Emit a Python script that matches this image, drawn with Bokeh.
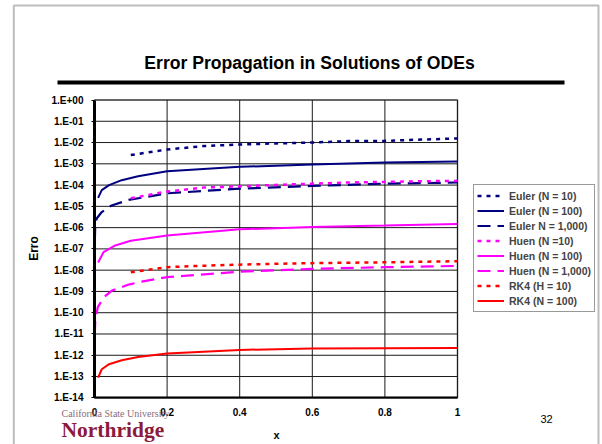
import math
from bokeh.plotting import figure
from bokeh.models import (Range1d, FixedTicker, Label, BoxAnnotation, Legend, LegendItem)
from bokeh.embed import file_html
from bokeh.resources import INLINE

# ---------------- data ----------------
euler10_x = [0.1, 0.2, 0.3, 0.4, 0.5, 0.6, 0.7, 0.8, 0.9, 1.0]
euler10_y = [2.6e-3, 4.7e-3, 6.8e-3, 8.1e-3, 9.1e-3, 1.0e-2, 1.17e-2, 1.2e-2, 1.38e-2, 1.55e-2]

euler100_x = [0.01, 0.02, 0.04, 0.075, 0.12, 0.2, 0.4, 0.6, 0.8, 1.0]
euler100_y = [2.5e-5, 5.8e-5, 1.0e-4, 1.7e-4, 2.6e-4, 4.5e-4, 7.2e-4, 9.3e-4, 1.15e-3, 1.3e-3]

euler1000_x = [0.001, 0.002, 0.006, 0.02, 0.047, 0.094, 0.2, 0.4, 0.6, 0.8, 1.0]
euler1000_y = [2.5e-7, 1.26e-6, 2.7e-6, 5.4e-6, 1.1e-5, 2.0e-5, 4.1e-5, 6.8e-5, 9.1e-5, 1.17e-4, 1.32e-4]

huen10_x = [0.1, 0.2, 0.3, 0.4, 0.5, 0.6, 0.7, 0.8, 0.9, 1.0]
huen10_y = [2.4e-5, 5.0e-5, 7.6e-5, 8.7e-5, 1.02e-4, 1.17e-4, 1.32e-4, 1.41e-4, 1.51e-4, 1.58e-4]

huen100_x = [0.01, 0.025, 0.057, 0.1, 0.2, 0.4, 0.6, 0.8, 1.0]
huen100_y = [2.3e-8, 7.1e-8, 1.45e-7, 2.4e-7, 4.3e-7, 8.3e-7, 1.07e-6, 1.26e-6, 1.5e-6]

huen1000_x = [0.001, 0.002, 0.009, 0.025, 0.048, 0.094, 0.13, 0.2, 0.4, 0.6, 0.8, 1.0]
huen1000_y = [1.0e-11, 4.0e-11, 1.8e-10, 5.2e-10, 1.1e-9, 2.1e-9, 2.9e-9, 4.7e-9, 8.5e-9, 1.15e-8, 1.38e-8, 1.58e-8]

rk4_10_x = [0.1, 0.2, 0.3, 0.4, 0.5, 0.6, 0.7, 0.8, 0.9, 1.0]
rk4_10_y = [7.9e-9, 1.38e-8, 1.62e-8, 1.82e-8, 2.0e-8, 2.14e-8, 2.24e-8, 2.34e-8, 2.5e-8, 2.63e-8]

rk4_100_x = [0.01, 0.02, 0.04, 0.075, 0.12, 0.2, 0.4, 0.6, 0.8, 1.0]
rk4_100_y = [8.9e-14, 2.2e-13, 3.8e-13, 5.8e-13, 8.3e-13, 1.2e-12, 1.78e-12, 2.1e-12, 2.14e-12, 2.19e-12]

series_labels = ["Euler (N = 10)", "Euler (N = 100)", "Euler N = 1,000)",
                 "Huen (N =10)", "Huen (N = 100)", "Huen (N = 1,000)",
                 "RK4 (H = 10)", "RK4 (N = 100)"]

x_ticks = [0, 0.2, 0.4, 0.6, 0.8, 1]
x_tick_labels = ["0", "0.2", "0.4", "0.6", "0.8", "1"]
y_ticks = [1e-14, 1e-13, 1e-12, 1e-11, 1e-10, 1e-9, 1e-8, 1e-7, 1e-6, 1e-5, 1e-4, 1e-3, 1e-2, 1e-1, 1e0]
y_tick_labels = ["1.E-14", "1.E-13", "1.E-12", "1.E-11", "1.E-10", "1.E-09", "1.E-08", "1.E-07",
                 "1.E-06", "1.E-05", "1.E-04", "1.E-03", "1.E-02", "1.E-01", "1.E+00"]

title_text = "Error Propagation in Solutions of ODEs"
x_label = "x"
y_label = "Erro"

# ---------------- layout geometry (canvas pixels, origin top-left) ----------------
W, H = 602, 444
PL, PR, PT, PB = 94.0, 457.0, 99.5, 397.3       # plot box
X0, X1 = x_ticks[0], x_ticks[-1]
LY0, LY1 = math.log10(y_ticks[0]), math.log10(y_ticks[-1])
sx = (PR - PL) / (X1 - X0)
sy = (PB - PT) / (LY1 - LY0)
x_start = X0 - PL / sx
x_end = X1 + (W - PR) / sx
y_start = 10 ** (LY0 - (H - PB) / sy)
y_end = 10 ** (LY1 + PT / sy)

FONT = "Liberation Sans"
NAVY = "#000080"
MAG = "#FF00FF"
RED = "#FF0000"

p = figure(width=W, height=H, output_backend="svg", toolbar_location=None,
           y_axis_type="log", x_range=Range1d(x_start, x_end), y_range=Range1d(y_start, y_end),
           min_border=0)
p.background_fill_color = "white"
p.border_fill_color = "white"
p.outline_line_color = None
p.xgrid.visible = False
p.ygrid.visible = False

# grid lines (through data scales)
p.segment(x0=[X0] * len(y_ticks), x1=[X1] * len(y_ticks), y0=y_ticks, y1=y_ticks,
          line_color="#1a1a1a", line_width=1)
p.segment(x0=x_ticks, x1=x_ticks, y0=[y_ticks[0]] * len(x_ticks), y1=[y_ticks[-1]] * len(x_ticks),
          line_color="#1a1a1a", line_width=1)

# axes fixed on the plot box
p.xaxis.fixed_location = y_ticks[0]
p.xaxis.bounds = (X0, X1)
p.yaxis.fixed_location = X0
p.yaxis.bounds = (y_ticks[0], y_ticks[-1])
p.xaxis.ticker = FixedTicker(ticks=x_ticks)
p.xaxis.major_label_overrides = dict(zip(x_ticks, x_tick_labels))
p.yaxis.ticker = FixedTicker(ticks=y_ticks)
p.yaxis.major_label_overrides = dict(zip(y_ticks, y_tick_labels))
for ax in (p.xaxis, p.yaxis):
    ax.major_label_text_font = FONT
    ax.major_label_text_font_style = "bold"
    ax.major_label_text_font_size = "10px"
    ax.major_label_text_color = "black"
    ax.minor_tick_line_color = None
    ax.axis_line_color = "black"
p.xaxis.major_tick_out = 0
p.xaxis.major_tick_in = 0
p.xaxis.major_label_standoff = 10
p.xaxis.axis_line_width = 2
p.yaxis.major_tick_out = 3
p.yaxis.major_tick_in = 0
p.yaxis.major_tick_line_color = "black"
p.yaxis.major_label_standoff = 8
p.yaxis.axis_line_width = 3

# plot box outline
p.add_layout(BoxAnnotation(left=X0, right=X1, bottom=y_ticks[0], top=y_ticks[-1],
                           fill_color=None, fill_alpha=0, line_color="black", line_width=2,
                           level="underlay"))

# series
DOT = "4 5"
LDASH = "13 7"
specs = [
    (euler10_x, euler10_y, NAVY, DOT, 2.5),
    (euler100_x, euler100_y, NAVY, "solid", 2),
    (euler1000_x, euler1000_y, NAVY, LDASH, 2.2),
    (huen10_x, huen10_y, MAG, DOT, 2.5),
    (huen100_x, huen100_y, MAG, "solid", 2),
    (huen1000_x, huen1000_y, MAG, LDASH, 2.2),
    (rk4_10_x, rk4_10_y, RED, DOT, 2.5),
    (rk4_100_x, rk4_100_y, RED, "solid", 2),
]
items = []
for (xs, ys, col, dash, w), lab in zip(specs, series_labels):
    r = p.line(xs, ys, line_color=col, line_dash=dash, line_width=w)
    items.append(LegendItem(label=lab, renderers=[r]))

legend = Legend(items=items, location=(473, H - 312), orientation="vertical",
                label_text_font=FONT, label_text_font_style="bold", label_text_font_size="10.5px",
                glyph_width=27, glyph_height=15, label_height=15, label_standoff=5,
                spacing=0, padding=3, margin=0,
                border_line_color="#333333", border_line_width=1,
                background_fill_color="white", background_fill_alpha=1)
p.add_layout(legend, "center")

# texts: x = canvas px from left, y = canvas px from top (converted)
def lab(text, x, y, size, style="normal", font=FONT, color="black", align="center",
        baseline="middle", angle=0.0):
    p.add_layout(Label(x=x, y=H - y, x_units="screen", y_units="screen", text=text,
                       text_font=font, text_font_size=size, text_font_style=style,
                       text_color=color, text_align=align, text_baseline=baseline,
                       angle=angle))

lab("California State University", 61, 413, "10px", font="Liberation Serif",
    color="#8a6c7a", align="left")
lab("Northridge", 61, 429.5, "21.5px", "bold", font="Liberation Serif",
    color="#8b1a3c", align="left", baseline="alphabetic")
lab(title_text, 309, 62.5, "17.6px", "bold")
lab(y_label, 33, 248, "12px", "bold", angle=math.pi / 2)
lab(x_label, 276, 434, "11px", "bold")
lab("32", 546, 418, "11px")

# title underline
p.add_layout(BoxAnnotation(left=57, right=564, top=H - 80, bottom=H - 84,
                           left_units="screen", right_units="screen",
                           top_units="screen", bottom_units="screen",
                           fill_color="black", fill_alpha=1, line_color=None))
# slide frame
p.add_layout(BoxAnnotation(left=13.3, right=598, top=H - 5, bottom=-60,
                           left_units="screen", right_units="screen",
                           top_units="screen", bottom_units="screen",
                           fill_color=None, fill_alpha=0, line_color="#222222",
                           line_width=2))

open("out.html", "w").write(file_html(p, INLINE))
